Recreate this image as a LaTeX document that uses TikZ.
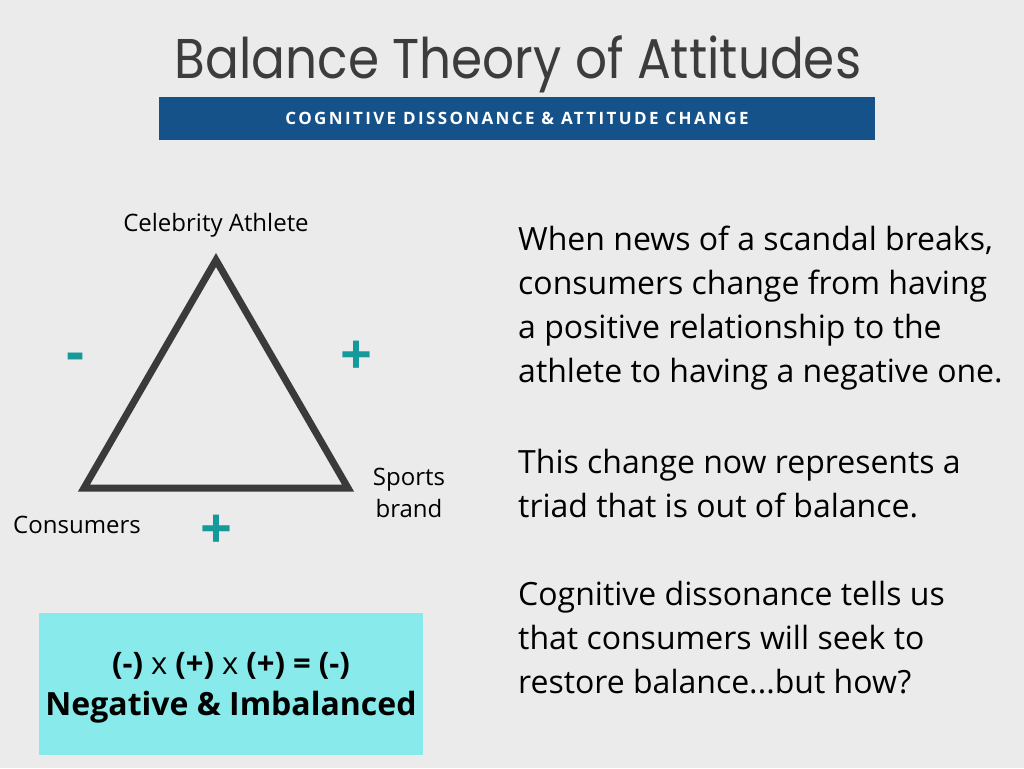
\documentclass[tikz,border=0pt]{standalone}
\usepackage{fontspec}
\setmainfont{Open Sans}
\newfontfamily\titlefont{Poppins}
\newfontfamily\bannerfont[LetterSpace=14]{Open Sans}
\definecolor{bg}{HTML}{EBEBEB}
\definecolor{titlegray}{HTML}{3C3C3C}
\definecolor{bannerblue}{HTML}{16528A}
\definecolor{tealsign}{HTML}{15999B}
\definecolor{cyanbox}{HTML}{88EAEA}
\definecolor{trigray}{HTML}{3A3A3A}
\tikzset{
  label/.style={anchor=base, inner sep=0, font=\fontsize{24}{28}\selectfont, text=black},
  sign/.style={inner sep=0, font=\bfseries\fontsize{56}{56}\selectfont, text=tealsign},
  body/.style={anchor=base west, inner sep=0, font=\fontsize{32}{44}\selectfont, text=black},
  tri/.style={draw=trigray, line width=7pt, line join=miter},
}
\begin{document}
\begin{tikzpicture}[x=1pt,y=-1pt]
\fill[bg] (0,0) rectangle (1024,768);
\useasboundingbox (0,0) rectangle (1024,768);

\node[anchor=base, inner sep=0, font=\titlefont\fontsize{56}{56}\selectfont, text=titlegray] (title) at (518,78) {\scalebox{0.895}[1]{Balance Theory of Attitudes}};

\node[fill=bannerblue, minimum width=716pt, minimum height=43pt, inner sep=0,
      font=\bannerfont\bfseries\fontsize{17}{17}\selectfont, text=white] (banner) at (517,118.5)
      {COGNITIVE DISSONANCE \& ATTITUDE CHANGE};

% triad
\coordinate (A) at (216,260);
\coordinate (C) at (84,488);
\coordinate (S) at (348,488);
\draw[tri] (A) -- (S) -- (C) -- cycle;

\node[label] (athlete) at (216,231) {Celebrity Athlete};
\node[label] (consumers) at (77,533) {Consumers};
\node[label] (sports) at (409,485) {Sports};
\node[label] (brand) at (409,517) {brand};

\node[sign] (minusAC) at (76,362) {-};
\node[sign] (plusAS) at (356,358) {+};
\node[sign] (plusCS) at (216,532) {+};

% result box
\node[fill=cyanbox, minimum width=384pt, minimum height=142pt, inner sep=0] (resbox) at (231,684) {};
\node[anchor=base, inner sep=0, font=\fontsize{31}{31}\selectfont] (eq) at (231,674)
  {\textbf{(-)} x \textbf{(+)} x \textbf{(+) = (-)}};
\node[anchor=base, inner sep=0, font=\bfseries\fontsize{32}{32}\selectfont] (verdict) at (231,715)
  {Negative \& Imbalanced};

% right text
\node[body] (p1a) at (518,250) {When news of a scandal breaks,};
\node[body] (p1b) at (518,294) {consumers change from having};
\node[body] (p1c) at (518,338) {a positive relationship to the};
\node[body] (p1d) at (518,382) {athlete to having a negative one.};
\node[body] (p2a) at (518,473) {This change now represents a};
\node[body] (p2b) at (518,517) {triad that is out of balance.};
\node[body] (p3a) at (518,605) {Cognitive dissonance tells us};
\node[body] (p3b) at (518,649) {that consumers will seek to};
\node[body] (p3c) at (518,693) {restore balance...but how?};
\end{tikzpicture}
\end{document}
